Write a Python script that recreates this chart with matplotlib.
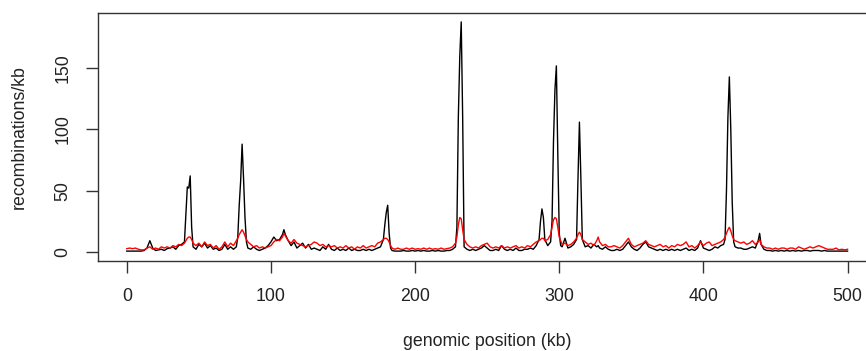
import matplotlib
matplotlib.use("Agg")
import matplotlib.pyplot as plt

# genomic position (kb), with extra points around the sharp peaks
pos_kb = [0, 2, 4, 6, 8, 10, 12, 14, 16, 18, 20, 22, 24, 26, 28, 30, 32, 34, 36, 38,
          40, 41, 42, 43, 44, 45, 46, 48, 50, 52, 54, 56, 58, 60, 62, 64, 66, 68, 70, 72,
          74, 76, 77, 78, 79, 80, 81, 82, 83, 84, 86, 88, 90, 92, 94, 96, 98, 100, 102, 104,
          106, 108, 109, 110, 112, 114, 116, 118, 120, 122, 124, 126, 128, 130, 132, 134, 136, 138, 140, 142,
          144, 146, 148, 150, 152, 154, 156, 158, 160, 162, 164, 166, 168, 170, 172, 174, 176, 178, 179, 180,
          181, 182, 183, 184, 186, 188, 190, 192, 194, 196, 198, 200, 202, 204, 206, 208, 210, 212, 214, 216,
          218, 220, 222, 224, 226, 228, 229, 230, 231, 232, 233, 234, 236, 238, 240, 242, 244, 246, 248, 250,
          252, 254, 256, 258, 260, 262, 264, 266, 268, 270, 272, 274, 276, 278, 280, 282, 284, 286, 287, 288,
          289, 290, 292, 294, 295, 296, 297, 298, 299, 300, 301, 302, 304, 306, 308, 310, 312, 313, 314, 315,
          316, 318, 320, 322, 324, 326, 327, 328, 330, 332, 334, 336, 338, 340, 342, 344, 346, 348, 350, 352,
          354, 356, 358, 360, 362, 364, 366, 368, 370, 372, 374, 376, 378, 380, 382, 384, 386, 388, 390, 392,
          394, 396, 398, 400, 402, 404, 406, 408, 410, 412, 414, 415, 416, 417, 418, 419, 420, 421, 422, 424,
          426, 428, 430, 432, 434, 436, 438, 439, 440, 442, 444, 446, 448, 450, 452, 454, 456, 458, 460, 462,
          464, 466, 468, 470, 472, 474, 476, 478, 480, 482, 484, 486, 488, 490, 492, 494, 496, 498, 500]

rate_black = [0.5, 0.5, 0.5, 0.5, 0.5, 0.5, 1, 3, 9, 3, 1, 1.5, 2, 1, 2.5, 3, 4, 2, 5, 6,
              8, 30, 53, 52, 62, 20, 4, 2, 6, 4, 7, 3, 5, 2, 3, 1, 2, 6, 2, 4,
              2, 4, 12, 38, 58, 88, 60, 28, 8, 3, 2, 4, 2, 1, 2, 3, 5, 8, 12, 9,
              10, 14, 18, 14, 9, 5, 8, 3, 5, 7, 3, 6, 2, 3, 2, 1, 4, 2, 6, 2,
              1, 3, 1, 2, 1, 3, 1, 2, 1, 1, 2, 1, 2, 1, 2, 3, 4, 10, 22, 32,
              38, 15, 3, 1, 0.5, 0.5, 0.5, 1, 0.5, 0.5, 1, 0.5, 1, 0.5, 1, 0.5, 0.5, 1, 0.5, 1,
              0.5, 0.5, 1, 1, 2, 4, 20, 110, 160, 188, 110, 4, 2, 1, 2, 1, 2, 3, 5, 3,
              1, 1, 2, 1, 5, 2, 1, 2, 1, 3, 1, 1, 2, 2, 3, 2, 5, 10, 25, 35,
              28, 10, 5, 8, 25, 90, 132, 152, 80, 15, 5, 4, 11, 3, 4, 6, 10, 60, 106, 60,
              10, 4, 5, 3, 6, 4, 5, 3, 2, 4, 2, 1, 1, 2, 1, 2, 5, 8, 4, 2,
              1, 3, 6, 8, 4, 3, 2, 1, 2, 1, 2, 1, 2, 1, 2, 1, 2, 3, 1, 2,
              1, 3, 9, 3, 2, 1, 2, 4, 3, 5, 6, 10, 50, 110, 143, 100, 40, 8, 4, 3,
              3, 2, 2, 3, 4, 3, 9, 15, 6, 2, 1, 1, 0.5, 1, 0.5, 1, 0.5, 1, 0.5, 1,
              0.5, 1, 0.5, 1, 1, 0.5, 1, 1, 1, 0.5, 1, 0.5, 0.5, 0.5, 0.5, 0.5, 0.5, 0.5, 0.5]

rate_red = [2.5, 3, 2.5, 3, 2, 1.5, 1.5, 3, 4, 2, 3, 2, 4, 3, 4, 3, 5, 4, 6, 5,
            7, 9, 11, 12, 12, 10, 7, 5, 7, 4, 8, 5, 6, 3, 5, 2, 4, 8, 4, 7,
            5, 9, 11, 14, 16, 18, 16, 13, 10, 8, 6, 4, 5, 3, 4, 3, 4, 5, 8, 10,
            9, 12, 15, 13, 9, 7, 10, 7, 6, 5, 4, 5, 6, 8, 7, 5, 6, 4, 5, 4,
            5, 3, 4, 3, 5, 3, 4, 2, 4, 3, 5, 3, 4, 5, 4, 7, 8, 10, 11, 11,
            10, 8, 5, 3, 2, 3, 2, 2, 3, 2, 3, 2, 2.5, 2, 3, 2, 3, 2, 2.5, 2,
            3, 2, 2.5, 3, 4, 7, 12, 22, 28, 27, 18, 10, 6, 4, 3, 4, 3, 5, 6, 7,
            4, 3, 4, 3, 5, 3, 4, 3, 4, 5, 3, 4, 3, 5, 4, 6, 8, 9, 10, 11,
            11, 9, 10, 14, 20, 26, 28, 27, 20, 12, 9, 6, 7, 5, 6, 8, 11, 14, 16, 14,
            10, 8, 6, 7, 5, 9, 12, 8, 5, 6, 4, 4, 5, 4, 3, 5, 8, 11, 6, 4,
            5, 6, 7, 9, 6, 5, 4, 5, 6, 4, 5, 3, 5, 4, 6, 5, 6, 8, 4, 5,
            3, 5, 8, 5, 7, 8, 5, 6, 7, 8, 10, 12, 15, 18, 20, 17, 13, 10, 9, 8,
            7, 8, 6, 7, 9, 6, 8, 10, 6, 4, 3, 3, 2, 3, 2, 3, 3, 2, 3, 3,
            2, 4, 3, 2, 3, 4, 3, 4, 5, 4, 3, 2, 2, 2, 3, 1.5, 2, 1.5, 2]

x_ticks = [0, 100, 200, 300, 400, 500]
y_ticks = [0, 50, 100, 150]

plt.rcParams['font.family'] = ['Liberation Sans', 'DejaVu Sans']

fig = plt.figure(figsize=(8.66, 3.51), dpi=100)
ax = fig.add_axes([0.1131, 0.255, 0.8989, 0.708])

ax.plot(pos_kb, rate_black, color='black', lw=1.0)
ax.plot(pos_kb, rate_red, color='red', lw=1.0)

ax.set_xlim(-20, 520)
ax.set_ylim(-8.0, 195.3)

ax.set_xticks(x_ticks)
ax.set_yticks(y_ticks)
ax.tick_params(axis='both', direction='out', length=8.3, width=1.0,
               color='#333333', labelsize=12.8, labelcolor='#222222', pad=11)
for lab in ax.get_yticklabels():
    lab.set_rotation(90)
    lab.set_va('center')

for sp in ax.spines.values():
    sp.set_color('#333333')
    sp.set_linewidth(1.0)

ax.set_xlabel('genomic position (kb)', fontsize=12.8, color='#222222', va='center')
ax.xaxis.set_label_coords(0.5, -0.3226)
ax.set_ylabel('recombinations/kb', fontsize=12.8, color='#222222', va='center')
ax.yaxis.set_label_coords(-0.1006, 0.5)

fig.savefig('out.png', dpi=100)
